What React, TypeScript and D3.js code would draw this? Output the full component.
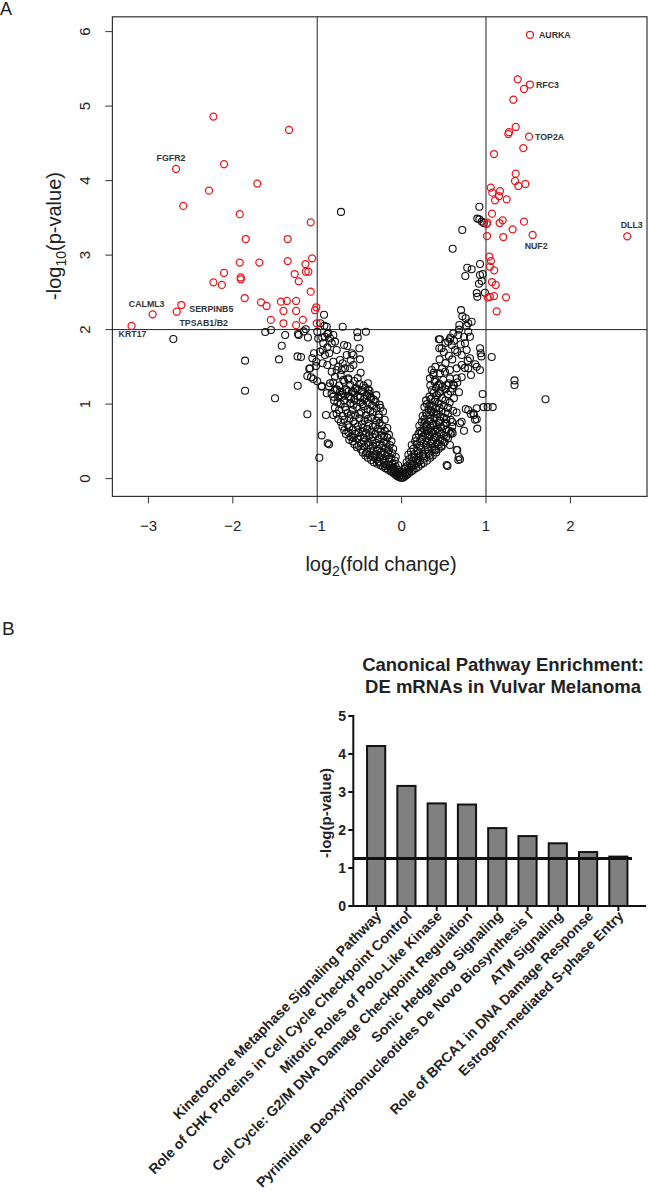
import React from "react";
import * as d3 from "d3";

// ---------------- Panel A data: volcano plot (log2 fold change, -log10 p) ----------------
const redLeft: [number, number][] = [
  [-2.23, 4.86], [-1.334, 4.68], [-2.673, 4.156], [-2.104, 4.22], [-1.71, 3.96], [-2.282, 3.865],
  [-2.587, 3.66], [-1.918, 3.55], [-1.077, 3.44], [-1.847, 3.216], [-1.35, 3.216], [-1.918, 2.9],
  [-1.686, 2.9], [-1.35, 2.92], [-1.06, 2.957], [-1.14, 2.88], [-1.267, 2.746], [-2.104, 2.76],
  [-1.136, 2.777], [-1.105, 2.777], [-1.906, 2.7], [-1.906, 2.675], [-2.23, 2.635], [-2.13, 2.6],
  [-1.219, 2.648], [-1.077, 2.509], [-1.859, 2.424], [-1.666, 2.366], [-1.6, 2.317], [-1.43, 2.375],
  [-1.36, 2.384], [-1.25, 2.384], [-1.4, 2.25], [-1.25, 2.25], [-1.01, 2.3], [-1.026, 2.26],
  [-2.61, 2.33], [-2.665, 2.24], [-2.95, 2.205], [-3.2, 2.05], [-1.55, 2.13], [-1.4, 2.085],
  [-1.25, 2.06], [-1.17, 2.13], [-1.006, 2.085],
];

const redRight: [number, number][] = [
  [1.521, 5.958], [1.376, 5.36], [1.521, 5.29], [1.45, 5.23], [1.324, 5.086], [1.352, 4.72],
  [1.273, 4.65], [1.265, 4.625], [1.51, 4.59], [1.442, 4.437], [1.095, 4.357], [1.352, 4.093],
  [1.344, 3.995], [1.383, 3.928], [1.466, 3.955], [1.056, 3.905], [1.075, 3.838], [1.166, 3.86],
  [1.154, 3.793], [1.107, 3.735], [1.245, 3.749], [1.071, 3.556], [1.016, 3.435], [1.008, 3.417],
  [1.198, 3.467], [1.162, 3.431], [1.45, 3.449], [1.316, 3.346], [1.553, 3.27], [1.205, 3.243],
  [1.012, 3.256], [2.674, 3.252], [1.04, 2.979], [1.059, 2.92], [1.047, 2.844], [1.098, 2.796],
  [1.071, 2.639], [1.115, 2.599], [1.237, 2.433], [1.047, 2.44], [1.095, 2.45], [1.02, 2.43],
  [1.127, 2.245],
];

const blackOutliers: [number, number][] = [
  [-0.718, 3.58], [-2.705, 1.874], [-1.855, 1.583], [-1.855, 1.18], [-1.5, 1.078], [-1.615, 1.968],
  [-1.547, 1.995], [-1.42, 1.784], [-1.453, 1.6], [-1.231, 1.247], [-1.192, 1.632], [-1.233, 1.64],
  [-1.219, 1.927], [-1.136, 2.004], [-1.16, 1.976], [-1.11, 1.894], [-1.38, 1.927], [-1.228, 1.942],
  [-1.117, 0.863], [-0.975, 0.28], [-0.947, 0.58], [-0.876, 0.474], [-0.86, 0.46], [-1.058, 1.615],
  [-1.085, 1.48], [-1.117, 1.377], [-1.046, 1.337], [-1.014, 1.51], [-0.947, 1.243], [-0.999, 1.972],
  [-0.935, 1.726], [-0.919, 2.2], [-1.094, 1.475], [-1.073, 1.36], [-0.999, 1.306], [-1.038, 1.682],
  [-0.967, 1.703], [-1.011, 1.569], [-0.988, 1.879], [-0.94, 1.894], [-0.88, 1.941], [-0.915, 2.052],
  [-0.964, 2.086], [-0.896, 0.854], [-0.809, 0.854],
  [0.921, 3.65], [0.897, 3.49], [0.921, 3.48], [0.95, 3.45], [0.974, 3.43], [0.719, 3.337],
  [0.605, 3.086], [0.929, 2.88], [0.778, 2.83], [0.83, 2.81], [0.755, 2.72], [0.929, 2.733],
  [0.961, 2.746], [0.917, 2.616], [0.949, 2.652], [0.89, 2.49], [0.897, 2.44], [0.988, 2.495],
  [1.338, 1.318], [1.338, 1.256], [1.705, 1.065], [1.068, 1.632], [0.96, 1.136], [1.02, 0.96],
  [1.08, 0.96], [0.97, 0.96], [0.897, 0.671], [0.82, 0.867], [0.87, 0.79], [0.76, 0.935],
  [0.652, 0.887], [0.677, 0.29], [0.544, 0.169], [0.652, 0.384], [0.89, 0.944], [0.79, 0.921],
  [0.858, 0.854], [0.89, 0.796], [0.739, 0.643], [0.712, 0.764], [0.66, 0.384], [0.692, 0.259],
  [0.475, 0.428], [0.408, 0.384], [0.573, 0.451], [0.605, 0.608], [0.534, 0.742], [0.85, 0.876],
  [0.692, 0.742], [0.594, 0.63], [0.672, 0.25], [0.534, 0.183],
];

const blackLeftUpper: [number, number][] = [
  [-0.887, 2.039], [-0.868, 1.95], [-0.908, 1.905], [-0.848, 1.883], [-0.809, 1.927], [-0.928, 1.816],
  [-0.88, 1.762], [-0.828, 1.816], [-0.789, 1.838], [-0.769, 1.726], [-0.857, 1.682], [-0.908, 1.659],
  [-0.935, 1.548], [-0.88, 1.525], [-0.809, 1.569], [-0.828, 1.435], [-0.769, 1.458], [-0.848, 1.279],
  [-0.947, 1.234], [-0.887, 1.145], [-0.809, 1.099], [-0.769, 1.189], [-0.698, 2.039], [-0.525, 1.964],
  [-0.422, 1.972], [-0.52, 1.897], [-0.682, 1.793], [-0.643, 1.78], [-0.591, 1.682], [-0.572, 1.659],
  [-0.501, 1.749], [-0.65, 1.659], [-0.73, 1.592], [-0.698, 1.548], [-0.75, 1.502], [-0.71, 1.458],
  [-0.671, 1.48], [-0.611, 1.48], [-0.722, 1.391], [-0.789, 1.368], [-0.632, 1.346], [-0.691, 1.323],
  [-0.493, 1.601], [-0.485, 1.421], [-0.603, 1.592], [-0.572, 1.525], [-0.769, 1.199], [-0.73, 1.166],
  [-0.65, 1.189], [-0.572, 1.166], [-0.532, 1.212], [-0.473, 1.189], [-0.395, 1.199], [-0.71, 1.099],
  [-0.611, 1.099], [-0.493, 1.099], [-0.374, 1.099],
];

const blackLeftCore: [number, number][] = [
  [-0.01, 0.01], [-0.03, 0.02], [-0.05, 0.03], [-0.02, 0.04], [-0.07, 0.05], [-0.04, 0.06], [-0.09, 0.07],
  [-0.06, 0.08], [-0.11, 0.09], [-0.03, 0.07], [-0.13, 0.1], [-0.08, 0.1], [-0.02, 0.09],
  [-0.16, 0.12], [-0.12, 0.13], [-0.05, 0.12], [-0.19, 0.14], [-0.1, 0.15], [-0.22, 0.16], [-0.14, 0.17],
  [-0.07, 0.16], [-0.25, 0.18], [-0.18, 0.19], [-0.11, 0.2], [-0.29, 0.2], [-0.04, 0.18], [-0.21, 0.21],
  [-0.33, 0.22], [-0.26, 0.23], [-0.15, 0.23], [-0.08, 0.24], [-0.36, 0.25], [-0.3, 0.26], [-0.22, 0.26],
  [-0.12, 0.27], [-0.4, 0.28], [-0.34, 0.29], [-0.26, 0.29], [-0.18, 0.3], [-0.07, 0.29], [-0.43, 0.31],
  [-0.38, 0.32], [-0.3, 0.33], [-0.2, 0.33], [-0.11, 0.34], [-0.46, 0.35], [-0.41, 0.36], [-0.33, 0.37],
  [-0.24, 0.36], [-0.15, 0.38], [-0.48, 0.39], [-0.37, 0.4], [-0.28, 0.4], [-0.19, 0.41], [-0.1, 0.4],
  [-0.53, 0.42], [-0.44, 0.43], [-0.34, 0.44], [-0.23, 0.44], [-0.14, 0.45], [-0.56, 0.46], [-0.48, 0.47],
  [-0.4, 0.48], [-0.3, 0.48], [-0.21, 0.49], [-0.12, 0.5], [-0.58, 0.5], [-0.35, 0.51],
  [-0.62, 0.52], [-0.52, 0.53], [-0.44, 0.54], [-0.27, 0.53], [-0.17, 0.55], [-0.6, 0.56], [-0.49, 0.57],
  [-0.38, 0.58], [-0.24, 0.58], [-0.15, 0.59], [-0.66, 0.6], [-0.55, 0.6], [-0.31, 0.6],
  [-0.63, 0.62], [-0.46, 0.63], [-0.36, 0.63], [-0.2, 0.64], [-0.68, 0.65], [-0.58, 0.66], [-0.41, 0.67],
  [-0.28, 0.67], [-0.17, 0.68], [-0.7, 0.7], [-0.52, 0.7], [-0.34, 0.7], [-0.23, 0.71],
  [-0.64, 0.72], [-0.47, 0.73], [-0.39, 0.74], [-0.26, 0.75], [-0.72, 0.76], [-0.57, 0.77], [-0.44, 0.78],
  [-0.3, 0.78], [-0.2, 0.79], [-0.75, 0.8], [-0.62, 0.81], [-0.5, 0.81], [-0.36, 0.82],
  [-0.7, 0.84], [-0.55, 0.85], [-0.42, 0.85], [-0.27, 0.86], [-0.77, 0.87], [-0.64, 0.88], [-0.48, 0.89],
  [-0.34, 0.89], [-0.22, 0.9], [-0.74, 0.92], [-0.58, 0.92], [-0.4, 0.93], [-0.3, 0.94],
  [-0.79, 0.95], [-0.67, 0.96], [-0.53, 0.96], [-0.45, 0.97], [-0.35, 0.98], [-0.26, 0.99], [-0.72, 1.0],
  [-0.61, 1.01], [-0.49, 1.02], [-0.4, 1.02], [-0.31, 1.03],
  [-0.8, 1.05], [-0.68, 1.05], [-0.56, 1.06], [-0.44, 1.07], [-0.36, 1.08], [-0.75, 1.09], [-0.63, 1.1],
  [-0.52, 1.11], [-0.41, 1.12], [-0.3, 1.12],
  [-0.83, 1.14], [-0.7, 1.15], [-0.59, 1.16], [-0.47, 1.17], [-0.38, 1.18], [-0.66, 1.2], [-0.55, 1.21],
  [-0.43, 1.22], [-0.86, 1.24], [-0.74, 1.25], [-0.61, 1.26], [-0.5, 1.27], [-0.4, 1.28], [-0.68, 1.3],
  [-0.56, 1.31],
  [-0.09, 0.13], [-0.2, 0.17], [-0.27, 0.22], [-0.15, 0.27], [-0.32, 0.31], [-0.24, 0.32], [-0.42, 0.34],
  [-0.16, 0.35], [-0.29, 0.37], [-0.51, 0.44], [-0.39, 0.45], [-0.26, 0.46], [-0.18, 0.47], [-0.45, 0.5],
  [-0.57, 0.55], [-0.34, 0.56], [-0.21, 0.57], [-0.42, 0.61], [-0.51, 0.62], [-0.25, 0.63], [-0.62, 0.69],
  [-0.46, 0.68], [-0.31, 0.72], [-0.55, 0.74], [-0.68, 0.79], [-0.4, 0.8], [-0.27, 0.82], [-0.6, 0.86],
  [-0.5, 0.87], [-0.37, 0.91], [-0.66, 0.92], [-0.25, 0.95], [-0.57, 0.99], [-0.46, 1.0], [-0.76, 1.02],
  [-0.33, 1.06], [-0.6, 1.07], [-0.49, 1.09], [-0.72, 1.12], [-0.39, 1.14], [-0.63, 1.17], [-0.52, 1.19],
  [-0.79, 1.19], [-0.45, 1.25], [-0.81, 1.29], [-0.63, 1.33], [-0.52, 1.35],
];

const blackRightUpper: [number, number][] = [
  [0.704, 2.262], [0.759, 2.152], [0.83, 2.106], [0.79, 2.085], [0.684, 2.062], [0.613, 1.95],
  [0.573, 1.87], [0.553, 1.838], [0.455, 1.87], [0.475, 1.749], [0.594, 1.793], [0.633, 1.726],
  [0.672, 1.928], [0.79, 1.972], [0.81, 1.905], [0.751, 1.816], [0.771, 1.726], [0.712, 1.659],
  [0.81, 1.615], [0.929, 1.749], [0.937, 1.682], [0.357, 1.458], [0.376, 1.391], [0.455, 1.413],
  [0.514, 1.435], [0.573, 1.458], [0.653, 1.48], [0.712, 1.525], [0.79, 1.48], [0.89, 1.502],
  [0.929, 1.458], [0.336, 1.346], [0.396, 1.323], [0.494, 1.323], [0.573, 1.346], [0.653, 1.346],
  [0.712, 1.36], [0.435, 1.255], [0.534, 1.255], [0.613, 1.255], [0.441, 1.87], [0.447, 1.75],
  [0.52, 1.82], [0.578, 1.894], [0.946, 1.64], [0.872, 1.534], [0.784, 1.583], [0.75, 1.486],
  [0.822, 1.39], [0.52, 1.55], [0.6, 1.6], [0.66, 1.7], [0.56, 1.65], [0.7, 1.8], [0.62, 1.85],
  [0.74, 1.9], [0.68, 2.0], [0.77, 2.05], [0.72, 2.18], [0.45, 1.6], [0.5, 1.7], [0.4, 1.5],
  [0.38, 1.42], [0.48, 1.48],
];

const blackRightCore: [number, number][] = [
  [0.01, 0.01], [0.03, 0.02], [0.02, 0.04], [0.05, 0.04], [0.07, 0.06], [0.04, 0.07], [0.09, 0.08],
  [0.06, 0.09], [0.12, 0.1], [0.02, 0.08],
  [0.08, 0.12], [0.14, 0.12], [0.04, 0.13], [0.17, 0.14], [0.11, 0.15], [0.2, 0.16], [0.07, 0.17],
  [0.15, 0.18], [0.23, 0.19], [0.1, 0.2], [0.26, 0.21], [0.18, 0.21],
  [0.06, 0.22], [0.13, 0.23], [0.22, 0.24], [0.3, 0.24], [0.09, 0.26], [0.17, 0.26], [0.27, 0.27],
  [0.34, 0.28], [0.12, 0.29], [0.21, 0.3], [0.37, 0.31],
  [0.08, 0.32], [0.15, 0.33], [0.25, 0.33], [0.32, 0.34], [0.41, 0.35], [0.11, 0.36], [0.19, 0.37],
  [0.28, 0.38], [0.36, 0.39], [0.44, 0.4], [0.14, 0.4], [0.23, 0.41],
  [0.31, 0.42], [0.39, 0.43], [0.47, 0.44], [0.12, 0.45], [0.18, 0.46], [0.26, 0.47], [0.35, 0.47],
  [0.42, 0.48], [0.51, 0.49], [0.16, 0.5], [0.22, 0.5], [0.3, 0.51],
  [0.38, 0.52], [0.46, 0.53], [0.55, 0.54], [0.17, 0.55], [0.25, 0.56], [0.33, 0.57], [0.42, 0.57],
  [0.5, 0.58], [0.2, 0.6], [0.28, 0.6], [0.58, 0.6], [0.37, 0.61],
  [0.45, 0.62], [0.22, 0.64], [0.31, 0.64], [0.4, 0.65], [0.53, 0.66], [0.26, 0.68], [0.35, 0.68],
  [0.47, 0.69], [0.6, 0.7], [0.21, 0.71], [0.42, 0.72],
  [0.3, 0.73], [0.37, 0.74], [0.52, 0.75], [0.24, 0.76], [0.33, 0.77], [0.45, 0.78], [0.58, 0.79],
  [0.27, 0.8], [0.39, 0.81], [0.5, 0.82],
  [0.25, 0.84], [0.34, 0.85], [0.43, 0.86], [0.55, 0.87], [0.29, 0.88], [0.38, 0.89], [0.47, 0.9],
  [0.61, 0.91], [0.32, 0.93], [0.41, 0.94],
  [0.27, 0.96], [0.36, 0.97], [0.5, 0.98], [0.3, 1.0], [0.44, 1.01], [0.57, 1.02], [0.39, 1.03],
  [0.29, 1.05], [0.35, 1.07], [0.48, 1.08], [0.62, 1.08], [0.33, 1.1], [0.42, 1.12], [0.55, 1.13],
  [0.38, 1.15], [0.68, 1.16], [0.46, 1.17], [0.36, 1.19], [0.52, 1.2], [0.6, 1.21], [0.41, 1.22],
  [0.34, 1.25], [0.45, 1.27], [0.56, 1.28], [0.66, 1.29], [0.39, 1.3],
  [0.05, 0.15], [0.12, 0.18], [0.2, 0.23], [0.15, 0.28], [0.26, 0.3], [0.33, 0.31], [0.2, 0.34],
  [0.39, 0.38], [0.31, 0.39], [0.22, 0.44], [0.44, 0.46], [0.29, 0.45], [0.36, 0.5], [0.48, 0.51],
  [0.24, 0.53], [0.4, 0.55], [0.53, 0.56], [0.31, 0.58], [0.47, 0.6], [0.24, 0.62], [0.35, 0.63],
  [0.56, 0.64], [0.43, 0.67], [0.3, 0.7], [0.5, 0.71], [0.38, 0.72], [0.27, 0.74], [0.44, 0.75],
  [0.6, 0.76], [0.34, 0.8], [0.53, 0.8], [0.46, 0.83], [0.3, 0.85], [0.41, 0.87], [0.52, 0.89],
  [0.35, 0.91], [0.45, 0.95], [0.55, 0.95], [0.33, 0.98], [0.4, 1.06], [0.52, 1.05], [0.44, 1.15],
  [0.58, 1.17], [0.48, 1.23], [0.62, 1.25],
];

const geneLabels: { gene: string; fc: number; p: number }[] = [
  { gene: "AURKA", fc: 1.521, p: 5.958 },
  { gene: "RFC3", fc: 1.521, p: 5.29 },
  { gene: "TOP2A", fc: 1.51, p: 4.59 },
  { gene: "DLL3", fc: 2.674, p: 3.252 },
  { gene: "NUF2", fc: 1.553, p: 3.27 },
  { gene: "FGFR2", fc: -2.673, p: 4.156 },
  { gene: "CALML3", fc: -2.95, p: 2.205 },
  { gene: "SERPINB5", fc: -2.61, p: 2.33 },
  { gene: "TPSAB1/B2", fc: -2.665, p: 2.24 },
  { gene: "KRT17", fc: -3.2, p: 2.05 },
];

const xTicksA = [-3, -2, -1, 0, 1, 2];
const yTicksA = [0, 1, 2, 3, 4, 5, 6];
const foldCutoffs = [-1, 1];
const pCutoff = 2;

// ---------------- Panel B data: pathway enrichment ----------------
const pathways = [
  "Kinetochore Metaphase Signaling Pathway",
  "Role of CHK Proteins in Cell Cycle Checkpoint Control",
  "Mitotic Roles of Polo-Like Kinase",
  "Cell Cycle: G2/M DNA Damage Checkpoint Regulation",
  "Sonic Hedgehog Signaling",
  "Pyrimidine Deoxyribonucleotides De Novo Biosynthesis I",
  "ATM Signaling",
  "Role of BRCA1 in DNA Damage Response",
  "Estrogen-mediated S-phase Entry",
];
const pathwayValues = [4.21, 3.16, 2.7, 2.67, 2.05, 1.84, 1.65, 1.42, 1.3];
const yTicksB = [0, 1, 2, 3, 4, 5];
const thresholdB = 1.25;

// ---------------- layout (styles / positions kept separate) ----------------
const FONT = "'Liberation Sans', Arial, Helvetica, sans-serif";
const labelLayout: Record<string, { dx: number; dy: number; anchor: string }> = {
  AURKA: { dx: 9, dy: 0, anchor: "start" },
  RFC3: { dx: 6, dy: 0, anchor: "start" },
  TOP2A: { dx: 6, dy: 0, anchor: "start" },
  DLL3: { dx: 4.5, dy: -11.6, anchor: "middle" },
  NUF2: { dx: 3.5, dy: 11, anchor: "middle" },
  FGFR2: { dx: -5, dy: -11, anchor: "middle" },
  CALML3: { dx: -6, dy: -10, anchor: "middle" },
  SERPINB5: { dx: 8, dy: 4, anchor: "start" },
  "TPSAB1/B2": { dx: 27, dy: 11, anchor: "middle" },
  KRT17: { dx: 1, dy: 8.3, anchor: "middle" },
};

export default function App() {
  // Panel A scales
  const xA = d3.scaleLinear().domain([-3.427, 2.908]).range([112.4, 647]);
  const yA = d3.scaleLinear().domain([-0.239, 6.199]).range([496.4, 16.8]);
  const [x0, x1] = xA.range();
  const [yb, yt] = yA.range();

  const blacks = [...blackLeftCore, ...blackRightCore, ...blackLeftUpper, ...blackRightUpper, ...blackOutliers];
  const reds = [...redLeft, ...redRight];

  // Panel B scales
  const xB = d3.scaleBand<string>().domain(pathways).range([361, 633.5]).paddingInner(0.4).paddingOuter(0.2);
  const yB = d3.scaleLinear().domain([0, 5]).range([906, 716]);
  const axisXB = 353.3;

  const fmt = (v: number) => (v < 0 ? "\u2212" + Math.abs(v) : String(v));

  return (
    <svg
      width={648}
      height={1199}
      viewBox="0 0 648 1199"
      style={{ position: "absolute", left: 0, top: 0, background: "#fff" }}
      fontFamily={FONT}
    >
      <rect x={0} y={0} width={648} height={1199} fill="#fff" />
      {/* Panel labels */}
      <text x={0} y={15} fontSize={18} fill="#222">A</text>
      <text x={2} y={635} fontSize={19} fill="#222">B</text>

      {/* ---------- Panel A ---------- */}
      <g>
        {foldCutoffs.map((v) => (
          <line key={"fc" + v} x1={xA(v)} x2={xA(v)} y1={yt} y2={yb} stroke="#222" strokeWidth={1} />
        ))}
        <line x1={x0} x2={x1} y1={yA(pCutoff)} y2={yA(pCutoff)} stroke="#222" strokeWidth={1} />
        {blacks.map((d, i) => (
          <circle key={"b" + i} cx={xA(d[0])} cy={yA(d[1])} r={3.5} fill="none" stroke="#111" strokeWidth={1.1} />
        ))}
        {reds.map((d, i) => (
          <circle key={"r" + i} cx={xA(d[0])} cy={yA(d[1])} r={3.5} fill="none" stroke="#e8141a" strokeWidth={1.25} />
        ))}
        {geneLabels.map((g) => {
          const l = labelLayout[g.gene];
          return (
            <text
              key={g.gene}
              x={xA(g.fc) + l.dx}
              y={yA(g.p) + l.dy}
              textAnchor={l.anchor as any}
              dominantBaseline="central"
              fontSize={8.8}
              fontWeight="bold"
              fill="#333"
            >
              {g.gene}
            </text>
          );
        })}
        <rect x={x0} y={yt} width={x1 - x0} height={yb - yt} fill="none" stroke="#333" strokeWidth={1.2} />
        {/* x axis */}
        {xTicksA.map((t) => (
          <g key={"xt" + t}>
            <line x1={xA(t)} x2={xA(t)} y1={yb} y2={yb + 7} stroke="#333" strokeWidth={1} />
            <text x={xA(t)} y={531} textAnchor="middle" fontSize={15} fill="#222">{fmt(t)}</text>
          </g>
        ))}
        {/* y axis */}
        {yTicksA.map((t) => (
          <g key={"yt" + t}>
            <line x1={x0} x2={x0 - 7} y1={yA(t)} y2={yA(t)} stroke="#333" strokeWidth={1} />
            <text
              transform={`translate(${90},${yA(t)}) rotate(-90)`}
              textAnchor="middle"
              fontSize={15}
              fill="#222"
            >
              {fmt(t)}
            </text>
          </g>
        ))}
        <text x={381} y={571} textAnchor="middle" fontSize={20} fill="#222">
          log<tspan fontSize={14} dy={5}>2</tspan>
          <tspan dy={-5}>(fold change)</tspan>
        </text>
        <text transform="translate(61,236) rotate(-90)" textAnchor="middle" fontSize={20} fill="#222">
          -log<tspan fontSize={14} dy={5}>10</tspan>
          <tspan dy={-5}>(p-value)</tspan>
        </text>
      </g>

      {/* ---------- Panel B ---------- */}
      <g>
        <text x={503} y={671} textAnchor="middle" fontSize={18.5} fontWeight="bold" fill="#222">
          Canonical Pathway Enrichment:
        </text>
        <text x={503} y={692.5} textAnchor="middle" fontSize={18.5} fontWeight="bold" fill="#222">
          DE mRNAs in Vulvar Melanoma
        </text>
        {pathways.map((p, i) => (
          <rect
            key={"bar" + i}
            x={xB(p)!}
            y={yB(pathwayValues[i])}
            width={xB.bandwidth()}
            height={yB(0) - yB(pathwayValues[i])}
            fill="#808080"
            stroke="#111"
            strokeWidth={2}
          />
        ))}
        <line x1={axisXB} x2={632} y1={yB(thresholdB)} y2={yB(thresholdB)} stroke="#111" strokeWidth={2.8} />
        <line x1={axisXB} x2={axisXB} y1={yB(5) - 1} y2={yB(0) + 1} stroke="#111" strokeWidth={2} />
        <line x1={axisXB - 1} x2={646} y1={yB(0)} y2={yB(0)} stroke="#111" strokeWidth={2} />
        {yTicksB.map((t) => (
          <g key={"ybt" + t}>
            <line x1={axisXB - 5} x2={axisXB} y1={yB(t)} y2={yB(t)} stroke="#111" strokeWidth={2} />
            <text x={346} y={yB(t)} dy="0.35em" textAnchor="end" fontSize={14} fontWeight="bold" fill="#222">
              {t}
            </text>
          </g>
        ))}
        {pathways.map((p) => {
          const cx = xB(p)! + xB.bandwidth() / 2;
          return (
            <g key={"xl" + p}>
              <line x1={cx} x2={cx} y1={yB(0)} y2={yB(0) + 5} stroke="#111" strokeWidth={2} />
              <text
                transform={`translate(${cx + 6},${917}) rotate(-45)`}
                textAnchor="end"
                fontSize={14.1}
                fontWeight="bold"
                fill="#222"
              >
                {p}
              </text>
            </g>
          );
        })}
        <text
          transform="translate(331,813) rotate(-90)"
          textAnchor="middle"
          fontSize={15}
          fontWeight="bold"
          fill="#222"
        >
          -log(p-value)
        </text>
      </g>
    </svg>
  );
}
